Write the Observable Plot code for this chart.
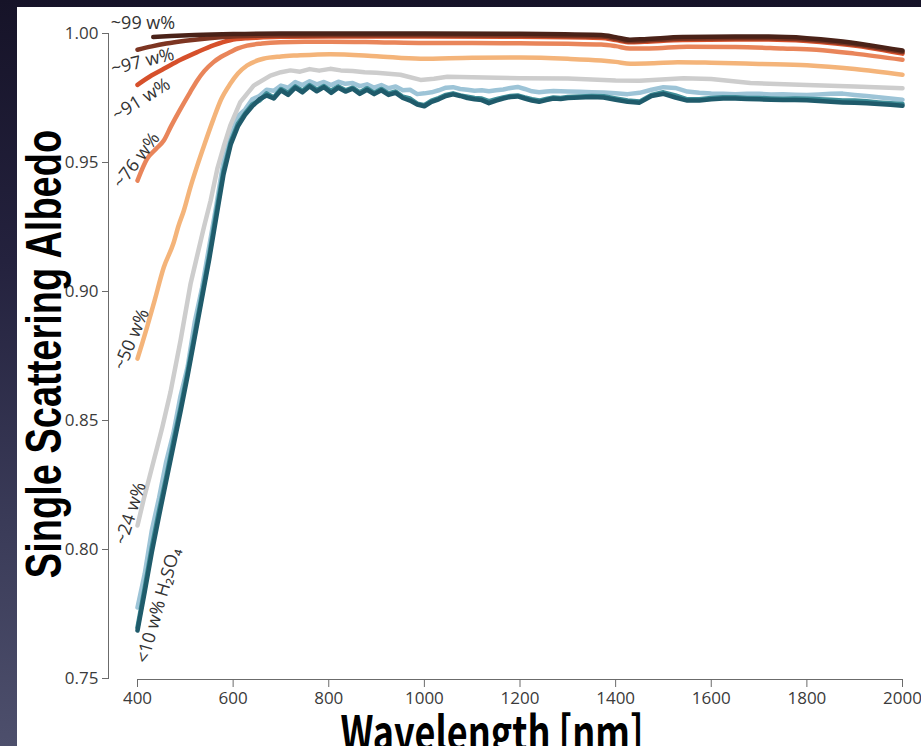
<!DOCTYPE html>
<html><head><meta charset="utf-8">
<script src="https://cdn.jsdelivr.net/npm/d3@7"></script>
<script src="https://cdn.jsdelivr.net/npm/@observablehq/plot@0.6"></script>
<style>
html,body{margin:0;padding:0;}
body{width:921px;height:746px;overflow:hidden;position:relative;
  background:linear-gradient(180deg,#161328 0%,#24223e 35%,#3a3b58 70%,#4d4f6c 100%);}
#panel{position:absolute;left:17px;top:7px;width:904px;height:739px;background:#fff;}
#chart{position:absolute;left:0;top:0;}
#ytitle{position:absolute;left:44px;top:354px;transform:translate(-50%,-50%) rotate(-90deg) scale(1,1.3);
  font:700 38px "Liberation Sans",Arial,sans-serif;white-space:nowrap;line-height:1;color:#000;}
#xtitle{position:absolute;left:492px;top:714px;transform:translate(-50%,0) scale(1,1.3);transform-origin:50% 0;
  font:700 36px "Noto Sans CJK JP","Liberation Sans",sans-serif;white-space:nowrap;line-height:0.7;color:#000;}
</style></head>
<body>
<div id="panel"></div>
<div id="chart"></div>
<div id="ytitle">Single Scattering Albedo</div>
<div id="xtitle">Wavelength [nm]</div>
<script>
// ---- axis ticks
const xTicks = [400, 600, 800, 1000, 1200, 1400, 1600, 1800, 2000];
const yTicks = [0.75, 0.80, 0.85, 0.90, 0.95, 1.00];

// ---- ~99 w%
const wl99  = [433, 470, 520, 600, 700, 800, 1000, 1200, 1370, 1400, 1430, 1460, 1540, 1650, 1720, 1800, 1860, 1930, 2000];
const alb99 = [0.9986, 0.9990, 0.9994, 0.9998, 1.0000, 1.0000, 1.0000, 0.9999, 0.9994, 0.9986, 0.9976, 0.9978, 0.9986, 0.9988, 0.9988, 0.9982, 0.9972, 0.9955, 0.9934];

// ---- ~97 w%
const wl97  = [400, 430, 460, 500, 550, 600, 650, 700, 800, 1000, 1200, 1370, 1400, 1430, 1460, 1540, 1650, 1720, 1800, 1860, 1930, 2000];
const alb97 = [0.9937, 0.9950, 0.9961, 0.9972, 0.9982, 0.9988, 0.9991, 0.9992, 0.9993, 0.9993, 0.9992, 0.9988, 0.9980, 0.9970, 0.9972, 0.9980, 0.9982, 0.9982, 0.9976, 0.9966, 0.9950, 0.9928];

// ---- ~91 w%
const wl91  = [400, 430, 455, 490, 525, 560, 594, 630, 663, 700, 800, 1000, 1200, 1370, 1400, 1430, 1460, 1540, 1650, 1720, 1800, 1860, 1930, 2000];
const alb91 = [0.9801, 0.9838, 0.9863, 0.9898, 0.9928, 0.9955, 0.9974, 0.9982, 0.9985, 0.9987, 0.9988, 0.9988, 0.9987, 0.9983, 0.9975, 0.9966, 0.9968, 0.9975, 0.9977, 0.9977, 0.9971, 0.9961, 0.9945, 0.9922];

// ---- ~76 w%
const wl76  = [400, 420, 440, 455, 470, 490, 510, 525, 540, 559, 575, 594, 610, 629, 660, 699, 750, 803, 900, 1000, 1100, 1200, 1300, 1370, 1400, 1430, 1470, 1550, 1650, 1750, 1820, 1900, 2000];
const alb76 = [0.9430, 0.9514, 0.9555, 0.9585, 0.9640, 0.9708, 0.9772, 0.9818, 0.9855, 0.9889, 0.9910, 0.9928, 0.9942, 0.9953, 0.9961, 0.9966, 0.9968, 0.9968, 0.9966, 0.9963, 0.9963, 0.9962, 0.9960, 0.9957, 0.9951, 0.9942, 0.9942, 0.9949, 0.9948, 0.9942, 0.9937, 0.9922, 0.9898];

// ---- ~50 w%
const wl50  = [400, 410, 420, 435, 455, 475, 486, 497, 510, 525, 540, 559, 575, 594, 610, 629, 663, 700, 734, 803, 900, 992, 1100, 1200, 1300, 1370, 1400, 1431, 1480, 1530, 1600, 1700, 1800, 1900, 2000];
const alb50 = [0.8740, 0.8800, 0.8862, 0.8960, 0.9094, 0.9186, 0.9256, 0.9314, 0.9400, 0.9488, 0.9570, 0.9669, 0.9745, 0.9805, 0.9845, 0.9876, 0.9902, 0.9911, 0.9915, 0.9920, 0.9912, 0.9902, 0.9906, 0.9907, 0.9902, 0.9895, 0.9890, 0.9883, 0.9885, 0.9889, 0.9887, 0.9882, 0.9877, 0.9862, 0.9840];

// ---- ~24 w%
const wl24  = [400, 413, 425, 434, 441, 452, 469, 490, 511, 525, 539, 553, 567, 580, 594, 615, 643, 678, 700, 720, 740, 760, 780, 803, 825, 850, 875, 900, 950, 992, 1020, 1048, 1100, 1200, 1300, 1400, 1450, 1542, 1600, 1682, 1800, 1900, 2000];
const alb24 = [0.8093, 0.8195, 0.8280, 0.8345, 0.8395, 0.8475, 0.8610, 0.8810, 0.9030, 0.9140, 0.9250, 0.9353, 0.9476, 0.9560, 0.9643, 0.9734, 0.9798, 0.9837, 0.9850, 0.9857, 0.9852, 0.9862, 0.9856, 0.9863, 0.9857, 0.9855, 0.9850, 0.9848, 0.9840, 0.9820, 0.9825, 0.9832, 0.9830, 0.9827, 0.9826, 0.9818, 0.9817, 0.9827, 0.9824, 0.9808, 0.9800, 0.9795, 0.9788];

// ---- <10 w% H2SO4 (three measurements)
const wl10 = [400, 415, 430, 445, 460, 475, 490, 505, 520, 535, 550, 565, 580, 595, 610, 625, 640, 655, 670, 685,
  700, 715, 730, 745, 760, 775, 790, 805, 820, 835, 850, 865, 880, 895, 910, 925, 940, 955, 970, 985,
  1000, 1015, 1030, 1045, 1060, 1075, 1090, 1105, 1120, 1135, 1150, 1165, 1180, 1195, 1210, 1225, 1240, 1255, 1270, 1285,
  1300, 1325, 1350, 1375, 1400, 1425, 1450, 1475, 1500, 1525, 1550, 1575, 1600, 1625, 1650, 1675, 1700, 1725, 1750, 1775,
  1800, 1825, 1850, 1875, 1900, 1925, 1950, 1975, 2000];
const alb10a = [0.7775, 0.7905, 0.8075, 0.8200, 0.8340, 0.8450, 0.8595, 0.8710, 0.8885, 0.9015, 0.9175, 0.9335, 0.9505, 0.9600, 0.9680, 0.9705, 0.9745, 0.9758, 0.9782, 0.9778,
  0.9798, 0.9790, 0.9812, 0.9800, 0.9815, 0.9803, 0.9812, 0.9800, 0.9813, 0.9805, 0.9808, 0.9796, 0.9803, 0.9790, 0.9800, 0.9788, 0.9795, 0.9780, 0.9782, 0.9765,
  0.9768, 0.9772, 0.9780, 0.9790, 0.9792, 0.9785, 0.9782, 0.9778, 0.9780, 0.9776, 0.9780, 0.9783, 0.9789, 0.9793, 0.9785, 0.9776, 0.9772, 0.9775, 0.9777, 0.9776,
  0.9775, 0.9774, 0.9772, 0.9771, 0.9768, 0.9765, 0.9770, 0.9782, 0.9792, 0.9789, 0.9775, 0.9770, 0.9767, 0.9766, 0.9765, 0.9766, 0.9766, 0.9764, 0.9765, 0.9763,
  0.9762, 0.9764, 0.9766, 0.9767, 0.9762, 0.9758, 0.9753, 0.9748, 0.9743];
const alb10b = [0.7698, 0.7850, 0.8010, 0.8150, 0.8280, 0.8420, 0.8550, 0.8690, 0.8840, 0.8990, 0.9140, 0.9310, 0.9470, 0.9580, 0.9650, 0.9690, 0.9725, 0.9740, 0.9768, 0.9752,
  0.9785, 0.9770, 0.9795, 0.9778, 0.9800, 0.9782, 0.9796, 0.9778, 0.9795, 0.9780, 0.9790, 0.9772, 0.9788, 0.9770, 0.9785, 0.9768, 0.9775, 0.9755, 0.9748, 0.9728,
  0.9722, 0.9740, 0.9750, 0.9762, 0.9768, 0.9760, 0.9755, 0.9750, 0.9748, 0.9738, 0.9745, 0.9752, 0.9758, 0.9760, 0.9752, 0.9745, 0.9740, 0.9746, 0.9752, 0.9750,
  0.9754, 0.9756, 0.9758, 0.9757, 0.9748, 0.9740, 0.9736, 0.9762, 0.9772, 0.9760, 0.9745, 0.9745, 0.9750, 0.9753, 0.9753, 0.9750, 0.9750, 0.9748, 0.9747, 0.9748,
  0.9747, 0.9745, 0.9743, 0.9740, 0.9740, 0.9737, 0.9733, 0.9730, 0.9727];
const alb10c = [0.7686, 0.7835, 0.7990, 0.8130, 0.8265, 0.8400, 0.8535, 0.8675, 0.8825, 0.8975, 0.9125, 0.9290, 0.9455, 0.9570, 0.9640, 0.9685, 0.9718, 0.9745, 0.9760, 0.9748,
  0.9780, 0.9762, 0.9790, 0.9772, 0.9795, 0.9776, 0.9792, 0.9770, 0.9790, 0.9775, 0.9786, 0.9766, 0.9782, 0.9765, 0.9780, 0.9762, 0.9770, 0.9750, 0.9740, 0.9725,
  0.9718, 0.9735, 0.9745, 0.9758, 0.9764, 0.9758, 0.9750, 0.9745, 0.9742, 0.9730, 0.9740, 0.9748, 0.9754, 0.9756, 0.9748, 0.9740, 0.9735, 0.9742, 0.9748, 0.9746,
  0.9750, 0.9752, 0.9754, 0.9752, 0.9743, 0.9735, 0.9732, 0.9758, 0.9766, 0.9752, 0.9740, 0.9740, 0.9745, 0.9748, 0.9748, 0.9746, 0.9745, 0.9743, 0.9742, 0.9742,
  0.9741, 0.9738, 0.9735, 0.9733, 0.9732, 0.9730, 0.9727, 0.9724, 0.9720];

// ---- series labels
const labelText  = ["~99 w%", "~97 w%", "~91 w%", "~76 w%", "~50 w%", "~24 w%", "<10 w% H₂SO₄"];
const labelWl    = [411.5, 410.5, 408, 398, 387.5, 385.5, 444];
const labelAlb   = [1.0039, 0.98915, 0.9744, 0.9508, 0.8814, 0.8140, 0.7783];
const labelAngle = [0, -14, -32, -53, -67, -72, -74];

// build tables
const rows = (wl, v) => wl.map((w, i) => ({wl: w, v: v[i]}));
const series = [
  {data: rows(wl10, alb10a), color: "#9dc4d7", curve: "linear"},
  {data: rows(wl10, alb10b), color: "#3e8d97", curve: "linear"},
  {data: rows(wl10, alb10c), color: "#1f5b6b", curve: "linear"},
  {data: rows(wl24, alb24), color: "#cdcdcd", curve: "linear"},
  {data: rows(wl50, alb50), color: "#f4b47a", curve: "monotone-x"},
  {data: rows(wl76, alb76), color: "#e9855a", curve: "monotone-x"},
  {data: rows(wl91, alb91), color: "#d6502b", curve: "monotone-x"},
  {data: rows(wl97, alb97), color: "#7d3522", curve: "monotone-x"},
  {data: rows(wl99, alb99), color: "#4a2218", curve: "monotone-x"}
];
const labels = labelText.map((t, i) => ({t, wl: labelWl[i], v: labelAlb[i], a: labelAngle[i]}));

const chart = Plot.plot({
  width: 921, height: 746,
  marginLeft: 108, marginRight: 19, marginTop: 33, marginBottom: 68,
  style: {background: "transparent", fontFamily: '"Open Sans","Noto Sans",sans-serif', fontSize: "17px", color: "#3b3b3b", overflow: "visible"},
  x: {domain: [400, 2000], insetLeft: 29},
  y: {domain: [0.75, 1.0]},
  marks: [
    Plot.frame({anchor: "left", stroke: "#6b6b6b"}),
    Plot.ruleY([0.75], {x1: 400, x2: 2000, stroke: "#6b6b6b", dy: 1}),
    Plot.axisY({ticks: yTicks, tickFormat: d3.format(".2f"), tickSize: 6, tickPadding: 4, label: null, stroke: "#6b6b6b", color: "#3b3b3b", fontSize: 17}),
    Plot.axisX({ticks: xTicks, tickFormat: d3.format("d"), tickSize: 8, tickPadding: 4, label: null, stroke: "#6b6b6b", color: "#3b3b3b", fontSize: 17, dy: 1}),
    ...series.map(s => Plot.line(s.data, {x: "wl", y: "v", stroke: s.color, strokeWidth: 4.5, curve: s.curve})),
    Plot.text(labels, {x: "wl", y: "v", text: "t", rotate: "a", fill: "#333", fontSize: 18})
  ]
});
document.getElementById("chart").append(chart);
</script>
</body></html>
